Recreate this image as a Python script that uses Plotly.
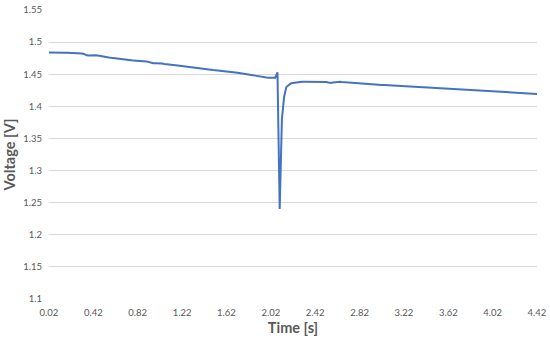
import plotly.graph_objects as go

# Time samples (s), step 0.02 from 0.02 to 4.42
time_s = [round(0.02 * (i + 1), 2) for i in range(221)]

voltage_v = [
    1.4838, 1.4836, 1.4838, 1.4840, 1.4839, 1.4837, 1.4838, 1.4836, 1.4835, 1.4834,
    1.4830, 1.4832, 1.4826, 1.4828, 1.4820, 1.4822, 1.4812, 1.4795, 1.4792, 1.4794,
    1.4800, 1.4797, 1.4790, 1.4782, 1.4772, 1.4768, 1.4765, 1.4760, 1.4755, 1.4752,
    1.4748, 1.4745, 1.4738, 1.4735, 1.4730, 1.4725, 1.4722, 1.4718, 1.4712, 1.4710,
    1.4708, 1.4712, 1.4714, 1.4710, 1.4700, 1.4690, 1.4675, 1.4672, 1.4670, 1.4671,
    1.4670, 1.4666, 1.4660, 1.4658, 1.4655, 1.4650, 1.4646, 1.4640, 1.4636, 1.4632,
    1.4630, 1.4628, 1.4620, 1.4615, 1.4610, 1.4606, 1.4604, 1.4600, 1.4596, 1.4594,
    1.4590, 1.4585, 1.4578, 1.4570, 1.4565, 1.4560, 1.4556, 1.4550, 1.4545, 1.4542,
    1.4540, 1.4538, 1.4535, 1.4530, 1.4526, 1.4522, 1.4518, 1.4515, 1.4510, 1.4505,
    1.4500, 1.4492, 1.4485, 1.4478, 1.4470, 1.4462, 1.4455, 1.4450, 1.4448, 1.4446,
    1.4445, 1.4444, 1.4446, 1.4530, 1.2400, 1.3800, 1.4150, 1.4300, 1.4335, 1.4355,
    1.4365, 1.4372, 1.4376, 1.4380, 1.4382, 1.4384, 1.4383, 1.4385, 1.4386, 1.4385,
    1.4386, 1.4384, 1.4385, 1.4386, 1.4383, 1.4378, 1.4370, 1.4365, 1.4372, 1.4378,
    1.4380, 1.4382, 1.4378, 1.4375, 1.4370, 1.4372, 1.4368, 1.4362, 1.4360, 1.4362,
    1.4358, 1.4355, 1.4350, 1.4348, 1.4345, 1.4342, 1.4340, 1.4338, 1.4336, 1.4335,
    1.4334, 1.4332, 1.4330, 1.4330, 1.4328, 1.4326, 1.4325, 1.4324, 1.4322, 1.4320,
    1.4320, 1.4318, 1.4315, 1.4312, 1.4310, 1.4306, 1.4302, 1.4300, 1.4298, 1.4295,
    1.4292, 1.4290, 1.4288, 1.4286, 1.4284, 1.4282, 1.4280, 1.4278, 1.4276, 1.4274,
    1.4272, 1.4270, 1.4268, 1.4266, 1.4264, 1.4262, 1.4260, 1.4258, 1.4256, 1.4254,
    1.4252, 1.4250, 1.4248, 1.4246, 1.4244, 1.4242, 1.4240, 1.4238, 1.4236, 1.4234,
    1.4232, 1.4230, 1.4228, 1.4226, 1.4222, 1.4220, 1.4217, 1.4214, 1.4212, 1.4210,
    1.4208, 1.4206, 1.4204, 1.4202, 1.4200, 1.4198, 1.4196, 1.4195, 1.4194, 1.4195,
    1.4193,
]

x_tick_vals = [0.02, 0.42, 0.82, 1.22, 1.62, 2.02, 2.42, 2.82, 3.22, 3.62, 4.02, 4.42]
x_tick_text = ["0.02", "0.42", "0.82", "1.22", "1.62", "2.02", "2.42", "2.82", "3.22", "3.62", "4.02", "4.42"]
y_tick_vals = [1.1, 1.15, 1.2, 1.25, 1.3, 1.35, 1.4, 1.45, 1.5, 1.55]
y_tick_text = ["1.1", "1.15", "1.2", "1.25", "1.3", "1.35", "1.4", "1.45", "1.5", "1.55"]

FONT = "Lato, 'Open Sans', sans-serif"
GRAY = "#595959"

fig = go.Figure()
fig.add_trace(go.Scatter(
    x=time_s, y=voltage_v, mode="lines",
    line=dict(color="#4472C4", width=2),
    showlegend=False,
))

fig.update_layout(
    width=550, height=342,
    margin=dict(l=49, r=13, t=10, b=43),
    paper_bgcolor="white", plot_bgcolor="white",
    font=dict(family=FONT, color=GRAY, size=10),
    xaxis=dict(
        range=[0.02, 4.42],
        tickmode="array", tickvals=x_tick_vals, ticktext=x_tick_text,
        showgrid=False, zeroline=False, showline=False,
        ticks="", tickfont=dict(size=9.5, color=GRAY),
        ticklabelstandoff=6,
        title=dict(text="<b>Time [s]</b>", font=dict(size=14.5, color=GRAY), standoff=6),
        automargin=False,
    ),
    yaxis=dict(
        range=[1.1, 1.55],
        tickmode="array", tickvals=y_tick_vals, ticktext=y_tick_text,
        showgrid=True, gridcolor="#D9D9D9", gridwidth=1,
        zeroline=False, showline=False, ticks="",
        tickfont=dict(size=9.5, color=GRAY),
        ticklabelstandoff=6,
        title=dict(text="<b>Voltage [V]</b>", font=dict(size=14.5, color=GRAY), standoff=4),
        automargin=False,
    ),
)

fig.write_html(
    "out.html",
    config={"displayModeBar": False},
    post_script="document.body.style.margin='0';",
)
